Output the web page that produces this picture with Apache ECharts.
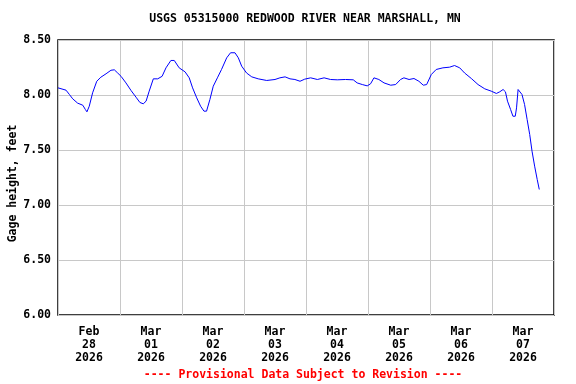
<!DOCTYPE html>
<html>
<head>
<meta charset="utf-8">
<script src="https://cdn.jsdelivr.net/npm/echarts@6/dist/echarts.min.js"></script>
<style>html,body{margin:0;padding:0;background:#fff;}#c{width:576px;height:384px;}</style>
</head>
<body>
<div id="c"></div>
<script>
// Hours since 2026-02-28 00:00
var hours = [0, 3.1, 4.4, 5.7, 7.6, 9.6, 10.6, 11.2, 12.1, 13.4, 15, 16.6, 18.6, 20.5, 21.8, 23.1,
  24.4, 26.3, 28.3, 30.2, 31.7, 33, 34.1, 35.3, 36.9, 38.6, 40.3, 41.8, 43.7, 45, 46.9,
  49.2, 50.8, 52.1, 53.7, 55.2, 56.5, 57.5, 58.8, 60.1, 61.7, 63.3, 65.3, 66.8, 68.5, 69.8, 71.1,
  73, 75, 77.5, 80.8, 84, 85.9, 87.9, 89.8, 91.7, 93.7, 95.5,
  97.8, 100.4, 103, 105.5, 108.1, 111.3, 114.3, 115.8, 117.8, 119.7, 120.4, 121, 122.3, 124.2,
  126.2, 128.8, 130.7, 132.6, 133.9, 135.9, 137.8, 139.7, 141.4, 142.7,
  144.5, 146.4, 149, 151.6, 153.5, 155.5, 157.4, 160, 162.6, 165.2, 167.7, 169.7, 171, 172.3,
  173.2, 174, 175.2, 176.1, 177, 177.5, 178.1, 178.7, 179.6, 180.6, 181.6, 182.6, 183.5,
  184.5, 185.5, 186.3];
var stage = [8.065, 8.044, 8.005, 7.965, 7.926, 7.907, 7.868, 7.847, 7.898, 8.02, 8.125, 8.162, 8.193, 8.225, 8.229, 8.2,
  8.17, 8.11, 8.04, 7.98, 7.932, 7.92, 7.944, 8.035, 8.147, 8.147, 8.17, 8.247, 8.314, 8.314, 8.247,
  8.21, 8.156, 8.065, 7.974, 7.898, 7.853, 7.853, 7.959, 8.08, 8.156, 8.232, 8.338, 8.384, 8.384, 8.338, 8.262,
  8.2, 8.165, 8.147, 8.132, 8.141, 8.156, 8.165, 8.147, 8.141, 8.125, 8.144,
  8.156, 8.141, 8.156, 8.141, 8.138, 8.141, 8.138, 8.11, 8.095, 8.083, 8.071, 8.102, 8.156, 8.141,
  8.11, 8.089, 8.095, 8.141, 8.156, 8.141, 8.15, 8.125, 8.089, 8.095,
  8.186, 8.232, 8.247, 8.253, 8.268, 8.247, 8.2, 8.15, 8.095, 8.056, 8.035, 8.014, 8.029, 8.05,
  8.029, 7.944, 7.868, 7.807, 7.807, 7.883, 8.05, 8.056, 8.005, 7.914, 7.777, 7.641, 7.489,
  7.353, 7.232, 7.141];
var dayLabels = ['Feb\n28\n2026', 'Mar\n01\n2026', 'Mar\n02\n2026', 'Mar\n03\n2026',
  'Mar\n04\n2026', 'Mar\n05\n2026', 'Mar\n06\n2026', 'Mar\n07\n2026'];
var titleText = 'USGS 05315000 REDWOOD RIVER NEAR MARSHALL, MN';
var yName = 'Gage height, feet';
var footerText = '---- Provisional Data Subject to Revision ----';

var FONT = 'DejaVu Sans Mono';
var chart = echarts.init(document.getElementById('c'), null, {renderer: 'canvas'});
var pts = hours.map(function (h, i) { return [h, stage[i]]; });
chart.setOption({
  animation: false,
  backgroundColor: '#ffffff',
  grid: {left: 58, right: 22, top: 40, bottom: 69, containLabel: false, outerBoundsMode: 'none',
    show: true, borderColor: '#000', borderWidth: 1.5, backgroundColor: 'transparent'},
  graphic: [
    {type: 'text', x: 305, y: 19, style: {text: titleText, fill: '#000', font: 'bold 11.5px "' + FONT + '"', textAlign: 'center', textVerticalAlign: 'middle'}},
    {type: 'text', x: 303, y: 375, style: {text: footerText, fill: '#ff0000', font: 'bold 11.5px "' + FONT + '"', textAlign: 'center', textVerticalAlign: 'middle'}}
  ],
  xAxis: [
    {type: 'value', min: 0, max: 192, interval: 24, position: 'top',
      axisLine: {show: false}, axisTick: {show: false}, axisLabel: {show: false},
      splitLine: {show: true, lineStyle: {color: '#c8c8c8', width: 1}}},
    {type: 'category', data: dayLabels, boundaryGap: true, position: 'bottom',
      axisLine: {show: false}, axisTick: {show: false}, splitLine: {show: false},
      axisLabel: {show: true, interval: 0, margin: 11, color: '#000', fontFamily: FONT, fontWeight: 'bold', fontSize: 11.5, lineHeight: 13}}
  ],
  yAxis: {type: 'value', min: 6, max: 8.5, interval: 0.5,
    name: yName, nameLocation: 'middle', nameRotate: 90, nameGap: 39, nameMoveOverlap: false,
    nameTextStyle: {color: '#000', fontFamily: FONT, fontWeight: 'bold', fontSize: 11.5, padding: [0, 12, 0, 0]},
    axisLine: {show: false}, axisTick: {show: false},
    axisLabel: {margin: 7, color: '#000', fontFamily: FONT, fontWeight: 'bold', fontSize: 11.5,
      formatter: function (v) { return v.toFixed(2); }},
    splitLine: {show: true, lineStyle: {color: '#c8c8c8', width: 1}}},
  series: [{type: 'line', xAxisIndex: 0, data: pts, showSymbol: false, symbol: 'none',
    lineStyle: {color: '#0000ff', width: 1}, z: 3}]
});
</script>
</body>
</html>
